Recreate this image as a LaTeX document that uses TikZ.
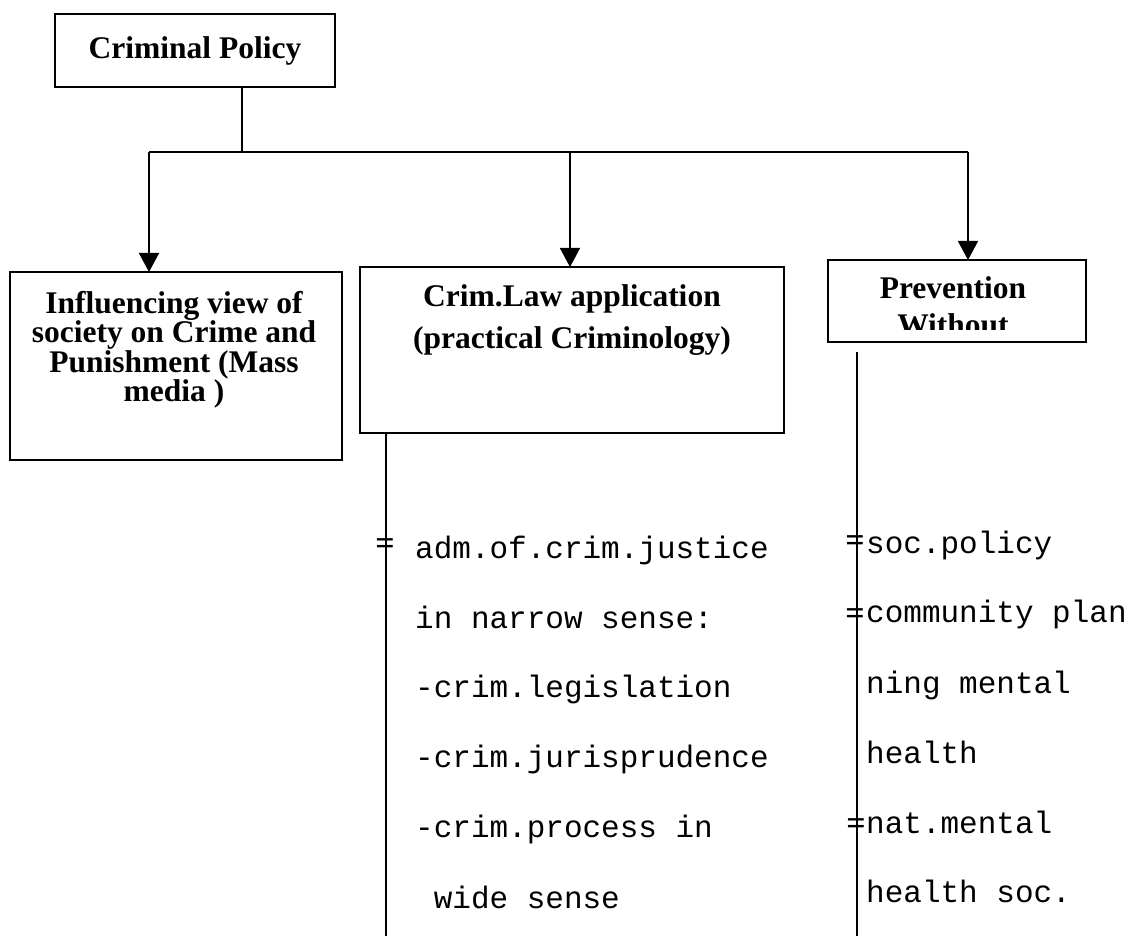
\documentclass[tikz,border=0pt]{standalone}
\usepackage{fontspec}
\setmainfont{Liberation Serif}
\setmonofont{Liberation Mono}
\usetikzlibrary{arrows.meta}
\begin{document}
\begin{tikzpicture}[x=1pt,y=-1pt,
  box/.style={draw, line width=1.7pt, inner sep=0pt, outer sep=0pt},
  title/.style={font=\bfseries\fontsize{31.5}{29.5}\selectfont, align=center, inner sep=0pt},
  mono/.style={font=\ttfamily\fontsize{31}{31}\selectfont, inner sep=0pt, anchor=base west},
  arr/.style={line width=1.7pt, -{Triangle[width=20pt,length=19pt]}},
  wire/.style={line width=1.7pt},
  eqmark/.style={font=\bfseries\fontsize{34}{34}\selectfont, inner sep=0pt, anchor=base}]
\useasboundingbox (0,0) rectangle (1130,936);
\fill[white] (0,0) rectangle (1130,936);

% boxes
\node[box, minimum width=280pt, minimum height=73pt] (cp) at (195,50.5) {};
\node[title, anchor=base] (cpt) at (195,59) {Criminal Policy};

\node[box, minimum width=332pt, minimum height=188pt] (lb) at (176,366) {};
\node[title, anchor=north] (lbt) at (174,291) {Influencing view of\\society on Crime and\\Punishment (Mass\\media )};

\node[box, minimum width=424pt, minimum height=166pt] (mb) at (572,350) {};
\node[title, font=\bfseries\fontsize{31.5}{42}\selectfont, anchor=north] (mbt) at (572,284) {Crim.Law application\\(practical Criminology)};

\node[box, minimum width=258pt, minimum height=82pt] (pb) at (957,301) {};
\begin{scope}
  \clip (829,261) rectangle (1085,329);
  \node[title, font=\bfseries\fontsize{31.5}{37}\selectfont, anchor=north] (pbt) at (953,276) {Prevention\\Without};
\end{scope}

% connectors
\coordinate (j) at (242,152);
\coordinate (bl) at (149,152);
\coordinate (bm) at (570,152);
\coordinate (br) at (968,152);
\draw[wire] (j |- cp.south) -- (j);
\draw[wire] (bl) -- (br);
\draw[arr] (bl) -- (bl |- lb.north);
\draw[arr] (bm) -- (bm |- mb.north);
\draw[arr] (br) -- (br |- pb.north);

\coordinate (mv) at (386,936);
\draw[wire] (mv |- mb.south) -- (mv);
\coordinate (rt) at (857,352);
\coordinate (rv) at (857,936);
\draw[wire] (rt) -- (rv);

% ticks
\node[eqmark] (t1) at (385,554) {=};
\node[eqmark] (t2) at (855,551) {=};
\node[eqmark] (t3) at (855,624) {=};
\node[eqmark] (t4) at (856,834) {=};

% middle column text
\node[mono] (m1) at (415,558) {adm.of.crim.justice};
\node[mono] (m2) at (415,628) {in narrow sense:};
\node[mono] (m3) at (415,697) {-crim.legislation};
\node[mono] (m4) at (415,767) {-crim.jurisprudence};
\node[mono] (m5) at (415,837) {-crim.process in};
\node[mono] (m6) at (415,908) {\ wide sense};

% right column text
\node[mono] (r1) at (866,553) {soc.policy};
\node[mono] (r2) at (866,622) {community plan};
\node[mono] (r3) at (866,693) {ning mental};
\node[mono] (r4) at (866,763) {health};
\node[mono] (r5) at (866,833) {nat.mental};
\node[mono] (r6) at (866,902) {health soc.};
\end{tikzpicture}
\end{document}
